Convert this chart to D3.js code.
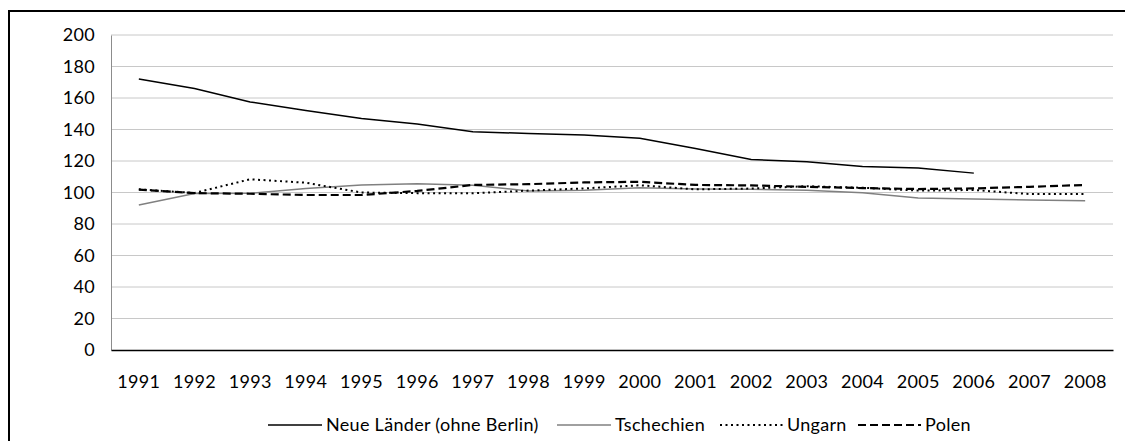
<html>
<head>
<script src="https://d3js.org/d3.v7.min.js"></script>
<style>
body { margin: 0; background: #fff; }
text { font-family: Lato, 'Open Sans', sans-serif; fill: #000; letter-spacing: 0.3px; }
</style>
</head>
<body>
<svg id="chart"></svg>
<script>

// Data
var years = ["1991","1992","1993","1994","1995","1996","1997","1998","1999",
             "2000","2001","2002","2003","2004","2005","2006","2007","2008"];
var neueLaender = [172, 166, 157.5, 152, 147, 143.5, 138.5, 137.5, 136.5, 134.5, 128, 121, 119.5, 116.5, 115.5, 112.3, null, null];
var tschechien  = [92, 99.3, 99.5, 102.6, 104.8, 105.6, 104.6, 101, 101.5, 103, 102.3, 102, 101.5, 99.8, 96.5, 95.8, 95.2, 94.8];
var ungarn      = [102, 99.7, 108.4, 106.2, 100, 99.6, 99.5, 101.2, 102.6, 104.6, 102, 102.5, 104, 103, 101.2, 101.6, 99, 99];
var polen       = [101.8, 99.6, 99.2, 98.4, 98.4, 101, 104.8, 105.3, 106.4, 106.8, 104.8, 104.5, 103.6, 102.8, 102.2, 102.6, 103.6, 104.8];
var yTicks = [0, 20, 40, 60, 80, 100, 120, 140, 160, 180, 200];

var series = [
	{ name: "Neue Länder (ohne Berlin)", values: neueLaender, color: "#000", width: 1.5, dash: null },
	{ name: "Tschechien", values: tschechien, color: "#808080", width: 1.5, dash: null },
	{ name: "Ungarn", values: ungarn, color: "#000", width: 2, dash: "2,3.5" },
	{ name: "Polen", values: polen, color: "#000", width: 2.2, dash: "8,4" }
];

var width = 1125;
var height = 441;
var margin = { top: 35, right: 12, bottom: 91, left: 111 };

var svg = d3.select("#chart").attr("width", width).attr("height", height);

// outer frame (cut off at right and bottom like the picture)
svg.append("rect")
	.attr("x", 9).attr("y", 11)
	.attr("width", 1130).attr("height", 450)
	.attr("fill", "none").attr("stroke", "#000").attr("stroke-width", 2);

var xScale = d3.scaleBand()
	.domain(years)
	.range([margin.left, width - margin.right]);

var yScale = d3.scaleLinear()
	.domain([0, 200])
	.range([height - margin.bottom, margin.top]);

// gridlines
svg.append("g")
	.selectAll("line")
	.data(yTicks.filter(function (d) { return d > 0; }))
	.enter().append("line")
	.attr("x1", margin.left).attr("x2", width - margin.right)
	.attr("y1", function (d) { return yScale(d); })
	.attr("y2", function (d) { return yScale(d); })
	.attr("stroke", "#c8c8c8").attr("stroke-width", 1);

// y axis
var yAxis = svg.append("g")
	.attr("transform", "translate(" + margin.left + ",0)")
	.call(d3.axisLeft(yScale).tickValues(yTicks).tickSize(0).tickPadding(16));
yAxis.select(".domain").attr("stroke", "#8c8c8c");
yAxis.selectAll("text").style("font-size", "18px");

// x axis
var xAxis = svg.append("g")
	.attr("transform", "translate(0," + (height - margin.bottom) + ")")
	.call(d3.axisBottom(xScale).tickSize(0).tickPadding(25));
xAxis.select(".domain").attr("stroke", "#000").attr("stroke-width", 1.3);
xAxis.selectAll("text").style("font-size", "18px");

var line = d3.line()
	.defined(function (d) { return d != null; })
	.x(function (d, i) { return xScale(years[i]) + xScale.bandwidth() / 2; })
	.y(function (d) { return yScale(d); });

svg.append("g")
	.selectAll("path")
	.data(series)
	.enter().append("path")
	.attr("d", function (d) { return line(d.values); })
	.attr("fill", "none")
	.attr("stroke", function (d) { return d.color; })
	.attr("stroke-width", function (d) { return d.width; })
	.attr("stroke-dasharray", function (d) { return d.dash; });

// legend
var legendX = [268, 557, 720, 858];
var legend = svg.append("g")
	.selectAll("g")
	.data(series)
	.enter().append("g")
	.attr("transform", function (d, i) { return "translate(" + legendX[i] + ",425)"; });

legend.append("line")
	.attr("x1", 0).attr("x2", function (d, i) { return i == 3 ? 63 : (i == 2 ? 64 : 54); })
	.attr("y1", 0).attr("y2", 0)
	.attr("stroke", function (d) { return d.color; })
	.attr("stroke-width", function (d) { return d.width; })
	.attr("stroke-dasharray", function (d) { return d.dash; });

legend.append("text")
	.attr("x", function (d, i) { return i == 3 ? 67 : (i == 2 ? 67 : 58); })
	.attr("dy", "0.35em")
	.style("font-size", "18px")
	.text(function (d) { return d.name; });

</script>
</body>
</html>
